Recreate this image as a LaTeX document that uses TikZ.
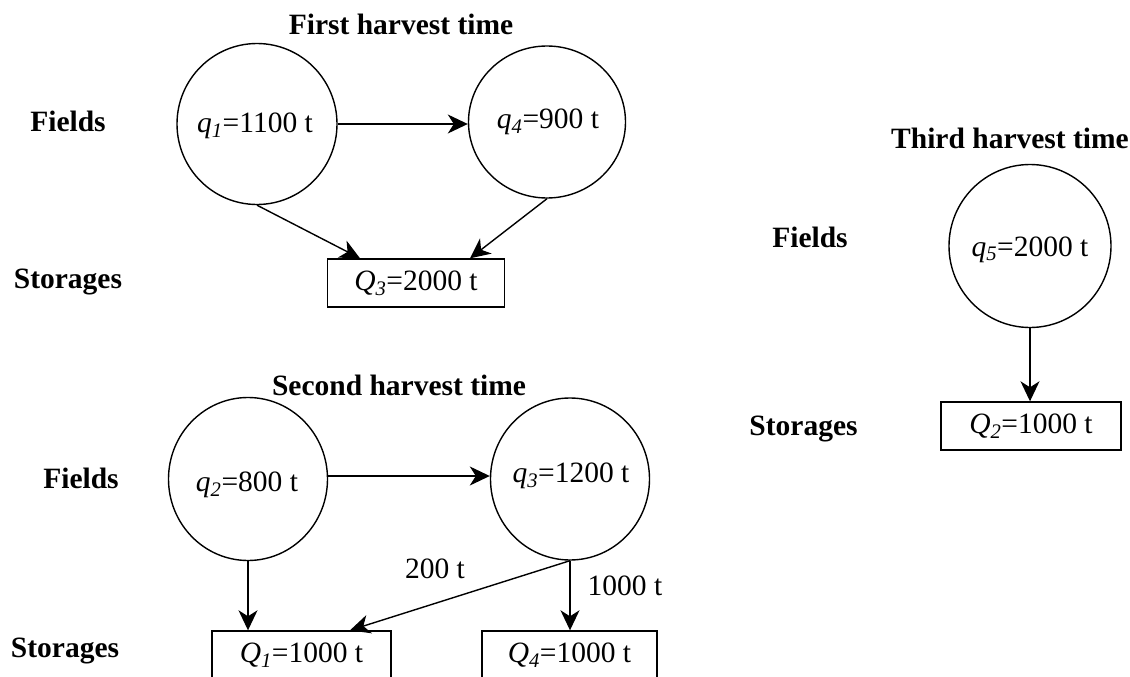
\documentclass[tikz,border=0pt]{standalone}
\usepackage{fontspec}
\setmainfont{Liberation Serif}
\usetikzlibrary{shapes.geometric,arrows.meta}
\begin{document}
\begin{tikzpicture}[x=1pt,y=-1pt,
  font=\fontsize{29.5pt}{35pt}\selectfont,
  field/.style={draw, ellipse, line width=1.4pt, inner sep=0pt},
  store/.style={draw, rectangle, line width=1.4pt, inner sep=0pt, minimum height=48pt},
  hd/.style={font=\fontsize{29.5pt}{35pt}\selectfont\bfseries, anchor=base, inner sep=0pt},
  val/.style={anchor=base, inner sep=0pt},
  flow/.style={line width=1.4pt, -{Stealth[length=20pt,width=19pt,inset=6pt]}}]
\useasboundingbox (0,0) rectangle (1130,677);

% ---- First harvest time ----
\node[hd] (t1) at (401,35) {First harvest time};
\node[hd] (f1) at (68,131) {Fields};
\node[hd] (s1) at (68,288) {Storages};
\node[field, minimum width=160pt, minimum height=161pt] (q1) at (257,124) {};
\node[val] (q1t) at (255,132) {\textit{q}\textsubscript{\textit{1}}=1100 t};
\node[field, minimum width=157pt, minimum height=152pt] (q4) at (547,122) {};
\node[val] (q4t) at (548,128) {\textit{q}\textsubscript{\textit{4}}=900 t};
\node[store, minimum width=177pt] (Q3) at (416,283) {\textit{Q}\textsubscript{\textit{3}}=2000 t};
\draw[flow] (q1.east) -- (q1.east -| q4.west);
\draw[flow] (q1.south) -- ([xshift=-56pt]Q3.north);
\draw[flow] (q4.south) -- ([xshift=54pt]Q3.north);

% ---- Second harvest time ----
\node[hd] (t2) at (399,395) {Second harvest time};
\node[hd] (f2) at (81,488) {Fields};
\node[hd] (s2) at (65,657) {Storages};
\node[field, minimum width=159pt, minimum height=163pt] (q2) at (248,479) {};
\node[val] (q2t) at (247,491) {\textit{q}\textsubscript{\textit{2}}=800 t};
\node[field, minimum width=159pt, minimum height=162pt] (q3) at (570,479) {};
\node[val] (q3t) at (571,482) {\textit{q}\textsubscript{\textit{3}}=1200 t};
\node[store, minimum width=179pt] (Q1) at (301.5,655) {\textit{Q}\textsubscript{\textit{1}}=1000 t};
\node[store, minimum width=175pt] (Q4) at (569.5,655) {\textit{Q}\textsubscript{\textit{4}}=1000 t};
\draw[flow] ([yshift=3pt]q2.east) -- ([yshift=3pt]q2.east -| q3.west);
\draw[flow] (q2.south) -- (q2.south |- Q1.north);
\draw[flow] (q3.south) -- (q3.south |- Q4.north);
\draw[flow] (q3.south) -- ([xshift=48.5pt]Q1.north);
\node[val] (l200) at (435,578) {200 t};
\node[val] (l1000) at (625,595) {1000 t};

% ---- Third harvest time ----
\node[hd] (t3) at (1010,148) {Third harvest time};
\node[hd] (f3) at (810,247) {Fields};
\node[hd] (s3) at (803.5,435) {Storages};
\node[field, minimum width=162pt, minimum height=163pt] (q5) at (1030,246) {};
\node[val] (q5t) at (1030,256) {\textit{q}\textsubscript{\textit{5}}=2000 t};
\node[store, minimum width=180pt] (Q2) at (1031,426) {\textit{Q}\textsubscript{\textit{2}}=1000 t};
\draw[flow] (q5.south) -- (q5.south |- Q2.north);
\end{tikzpicture}
\end{document}
